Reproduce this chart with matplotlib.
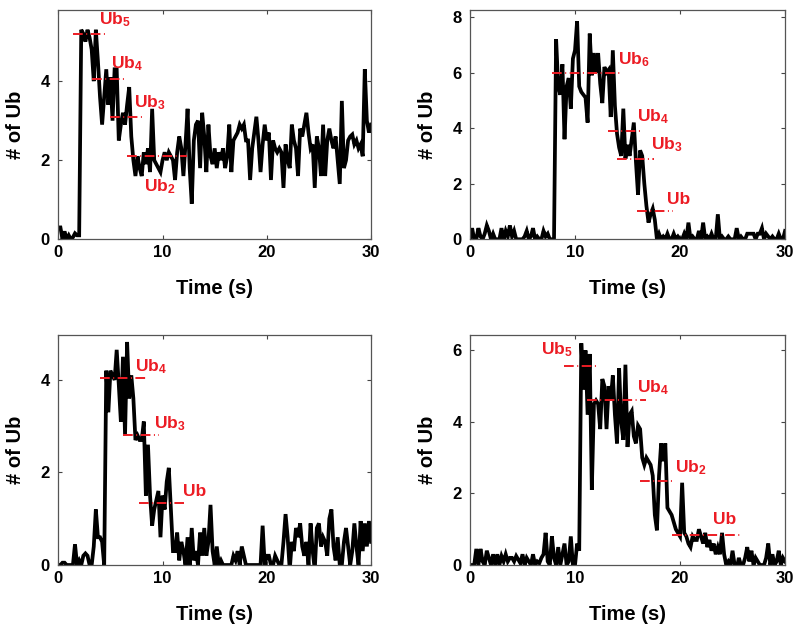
import numpy as np
import matplotlib
matplotlib.use('Agg')
import matplotlib.pyplot as plt

plt.rcParams['font.family'] = ['Liberation Sans', 'DejaVu Sans']
plt.rcParams['font.weight'] = 'bold'
plt.rcParams['mathtext.fontset'] = 'custom'
plt.rcParams['mathtext.bf'] = 'Liberation Sans:bold'
plt.rcParams['mathtext.rm'] = 'Liberation Sans:bold'
plt.rcParams['mathtext.default'] = 'bf'

# time grid: one sample every 0.2 s, 0..30 s
time = np.round(np.arange(151) * 0.2, 1)

# panel A (top left)
ub_a = [
    0.30, 0.30, 0.00, 0.20, 0.00, 0.10, 0.00, 0.05, 0.15, 0.10,
    0.10, 5.30, 5.20, 5.00, 5.30, 5.10, 4.80, 4.00, 5.30, 4.50,
    3.60, 2.90, 3.60, 4.30, 3.40, 4.10, 3.00, 4.30, 4.30, 2.50,
    2.90, 3.20, 2.90, 3.40, 3.85, 2.60, 2.00, 1.60, 2.10, 1.80,
    1.60, 2.20, 1.90, 2.30, 1.70, 3.30, 2.00, 1.90, 1.80, 1.70,
    2.00, 2.20, 2.00, 2.20, 2.10, 2.00, 1.50, 2.20, 2.60, 2.30,
    1.60, 2.40, 3.30, 1.80, 0.90, 2.50, 2.90, 3.00, 1.80, 3.20,
    2.60, 1.70, 2.90, 2.10, 1.90, 2.30, 1.80, 2.20, 2.00, 2.30,
    1.80, 2.10, 2.90, 1.70, 2.50, 2.60, 2.70, 2.90, 2.80, 2.90,
    2.50, 2.50, 1.50, 2.30, 2.70, 3.10, 2.50, 1.70, 2.40, 2.90,
    2.50, 2.70, 1.50, 2.50, 2.30, 2.20, 2.30, 2.20, 1.30, 2.40,
    2.00, 1.80, 2.90, 2.50, 2.30, 1.60, 2.80, 2.60, 2.90, 3.20,
    2.70, 2.30, 2.40, 1.30, 2.60, 2.30, 1.60, 2.90, 1.60, 2.50,
    2.80, 2.50, 2.30, 2.60, 2.00, 1.40, 3.50, 1.80, 2.00, 2.50,
    2.60, 2.65, 2.40, 2.50, 2.30, 2.40, 2.10, 4.30, 3.00, 2.70,
    2.90]

# panel B (top right)
ub_b = [
    0.00, 0.40, 0.00, 0.00, 0.40, 0.10, 0.00, 0.20, 0.50, 0.30,
    0.00, 0.20, 0.00, 0.00, 0.00, 0.40, 0.00, 0.30, 0.10, 0.50,
    0.10, 0.30, 0.00, 0.00, 0.00, 0.00, 0.10, 0.30, 0.00, 0.10,
    0.40, 0.00, 0.10, 0.00, 0.00, 0.30, 0.10, 0.20, 0.00, 0.00,
    0.00, 7.20, 5.50, 5.20, 6.30, 3.60, 5.50, 5.80, 4.70, 6.50,
    6.80, 7.85, 5.50, 5.30, 5.20, 5.10, 4.20, 7.40, 5.90, 6.70,
    6.00, 6.70, 5.60, 4.90, 6.20, 6.00, 6.10, 4.40, 6.80, 4.80,
    3.80, 3.30, 3.00, 4.70, 2.90, 3.40, 3.00, 3.60, 4.20, 2.80,
    1.60, 3.20, 3.00, 2.00, 1.20, 0.60, 0.90, 1.10, 0.70, 0.00,
    0.20, 0.00, 0.10, 0.00, 0.20, 0.00, 0.00, 0.20, 0.00, 0.10,
    0.00, 0.00, 0.20, 0.00, 0.60, 0.00, 0.10, 0.00, 0.00, 0.30,
    0.00, 0.60, 0.00, 0.10, 0.00, 0.20, 0.00, 0.00, 0.90, 0.00,
    0.10, 0.00, 0.00, 0.10, 0.00, 0.00, 0.00, 0.40, 0.00, 0.10,
    0.00, 0.00, 0.20, 0.20, 0.20, 0.20, 0.00, 0.20, 0.20, 0.40,
    0.00, 0.20, 0.10, 0.00, 0.10, 0.00, 0.00, 0.20, 0.00, 0.00,
    0.30]

# panel C (bottom left)
ub_c = [
    0.00, 0.00, 0.05, 0.05, 0.00, 0.00, 0.00, 0.00, 0.45, 0.00,
    0.10, 0.00, 0.20, 0.25, 0.20, 0.00, 0.00, 0.40, 1.20, 0.60,
    0.60, 0.50, 0.00, 4.20, 3.30, 4.20, 4.10, 4.00, 4.65, 3.90,
    3.10, 4.50, 2.80, 4.82, 3.60, 4.10, 3.60, 2.70, 2.80, 2.70,
    2.70, 3.10, 1.50, 2.60, 1.50, 0.85, 1.20, 1.40, 1.60, 0.60,
    1.50, 1.20, 1.80, 2.10, 1.20, 0.30, 0.30, 0.70, 0.10, 0.50,
    0.30, 0.00, 0.60, 0.00, 0.80, 0.10, 0.30, 0.00, 0.70, 0.20,
    0.80, 0.20, 0.50, 1.30, 0.30, 0.00, 0.40, 0.00, 0.10, 0.00,
    0.00, 0.00, 0.00, 0.00, 0.20, 0.10, 0.30, 0.00, 0.40, 0.20,
    0.00, 0.00, 0.00, 0.00, 0.00, 0.00, 0.00, 0.00, 0.85, 0.00,
    0.20, 0.20, 0.00, 0.00, 0.20, 0.10, 0.00, 0.00, 0.50, 1.10,
    0.60, -0.10, 0.50, 0.30, 0.80, 0.60, 0.90, 0.40, 0.20, 0.50,
    0.00, 0.90, 0.30, -0.10, 0.80, 0.90, 0.40, 0.60, 0.50, 0.20,
    1.00, 1.20, 0.40, 0.10, 0.60, 0.00, 0.00, 0.50, 0.80, 0.40,
    0.00, 0.30, 0.90, 0.40, 0.00, 0.95, 0.30, 0.90, 0.40, 0.95,
    0.50]

# panel D (bottom right)
ub_d = [
    0.00, 0.00, 0.00, 0.45, 0.00, 0.45, 0.10, 0.00, 0.40, 0.20,
    0.00, 0.30, 0.00, 0.30, 0.00, 0.25, 0.10, 0.30, 0.10, 0.20,
    0.20, 0.10, 0.25, 0.15, 0.05, 0.30, 0.00, 0.20, 0.10, 0.00,
    0.30, 0.00, 0.10, 0.05, 0.20, 0.30, 0.90, 0.10, 0.00, 0.80,
    0.20, 0.00, 0.50, 0.00, 0.30, 0.60, 0.00, 0.10, 0.80, 0.00,
    0.00, 0.60, 0.40, 6.20, 4.90, 6.00, 4.20, 5.90, 2.10, 4.50,
    4.60, 4.50, 3.80, 5.20, 5.00, 3.80, 5.00, 4.60, 5.30, 4.20,
    3.40, 5.50, 4.00, 3.50, 5.60, 3.30, 4.20, 4.30, 3.60, 3.40,
    3.90, 3.80, 3.00, 2.80, 3.00, 2.90, 2.80, 2.50, 1.40, 0.97,
    2.50, 3.40, 2.90, 3.40, 1.60, 1.50, 1.40, 1.20, 1.00, 0.90,
    0.80, 2.30, 0.90, 0.80, 0.60, 0.50, 0.80, 0.70, 0.70, 1.00,
    0.80, 0.60, 0.90, 0.50, 0.70, 0.40, 0.60, 0.30, 0.50, 0.30,
    0.90, 0.30, 0.00, 0.10, 0.00, 0.40, 0.00, -0.10, 0.20, 0.00,
    0.00, 0.20, 0.50, 0.10, 0.40, 0.00, 0.20, 0.10, 0.00, 0.00,
    0.00, 0.20, 0.60, 0.00, 0.30, 0.00, 0.10, 0.40, 0.00, 0.20,
    0.10]

# step levels: (level, t_start, t_end)
steps_a = [(5.2, 1.45, 4.65), (4.05, 3.2, 6.55), (3.1, 4.95, 8.3), (2.1, 6.55, 12.3)]
steps_b = [(6.0, 7.8, 14.4), (3.9, 13.1, 16.4), (2.9, 14.0, 17.5), (1.0, 15.9, 19.3)]
steps_c = [(4.05, 4.0, 8.45), (2.8, 6.25, 9.7), (1.35, 7.7, 12.05)]
steps_d = [(5.56, 8.95, 12.3), (4.6, 11.1, 16.8), (2.35, 16.2, 19.5), (0.83, 19.2, 25.9)]

# step labels: (text, t, y)
labels_a = [('Ub$_5$', 3.95, 5.55), ('Ub$_4$', 5.05, 4.43), ('Ub$_3$', 7.3, 3.46), ('Ub$_2$', 8.2, 1.34)]
labels_b = [('Ub$_6$', 14.1, 6.45), ('Ub$_4$', 15.9, 4.43), ('Ub$_3$', 17.2, 3.39), ('Ub', 18.8, 1.44)]
labels_c = [('Ub$_4$', 7.35, 4.29), ('Ub$_3$', 9.15, 3.05), ('Ub', 11.95, 1.59)]
labels_d = [('Ub$_5$', 6.75, 6.03), ('Ub$_4$', 15.9, 4.97), ('Ub$_2$', 19.5, 2.71), ('Ub', 23.1, 1.28)]

x_ticks = [0, 10, 20, 30]

panels = [
    (ub_a, steps_a, labels_a, 5.8, [0, 2, 4], [0.0729, 0.6214, 0.3909, 0.3628]),
    (ub_b, steps_b, labels_b, 8.25, [0, 2, 4, 6, 8], [0.5875, 0.6214, 0.3938, 0.3628]),
    (ub_c, steps_c, labels_c, 4.97, [0, 2, 4], [0.0729, 0.1060, 0.3909, 0.3639]),
    (ub_d, steps_d, labels_d, 6.43, [0, 2, 4, 6], [0.5875, 0.1060, 0.3938, 0.3639]),
]

red = '#ec1c24'

fig = plt.figure(figsize=(8, 6.32), dpi=100)

for vals, steps, labels, ytop, yticks, rect in panels:
    ax = fig.add_axes(rect)
    ax.plot(time, vals, color='black', lw=2.7, solid_joinstyle='miter')
    for level, t0, t1 in steps:
        ax.plot([t0, t1], [level, level], color=red, lw=1.4,
                linestyle=(0, (5, 1.8, 0.5, 1.8)))
    for txt, tx, ty in labels:
        ax.text(tx, ty, txt, color=red, fontsize=12.5, fontweight='bold',
                ha='left', va='center')
    ax.set_xlim(0, 30)
    ax.set_ylim(0, ytop)
    ax.set_xticks(x_ticks)
    ax.set_yticks(yticks)
    ax.tick_params(direction='in', top=True, right=True, length=3,
                   width=0.8, colors='#444444', labelcolor='black',
                   labelsize=12)
    ax.tick_params(axis='x', pad=4)
    ax.tick_params(axis='y', pad=6)
    for sp in ax.spines.values():
        sp.set_color('#555555')
        sp.set_linewidth(0.9)
    ax.set_xlabel('Time (s)', fontsize=14.5, fontweight='bold', labelpad=14)
    ax.set_ylabel('# of Ub', fontsize=14.5, fontweight='bold', labelpad=11)

fig.savefig('out.png', dpi=100)
